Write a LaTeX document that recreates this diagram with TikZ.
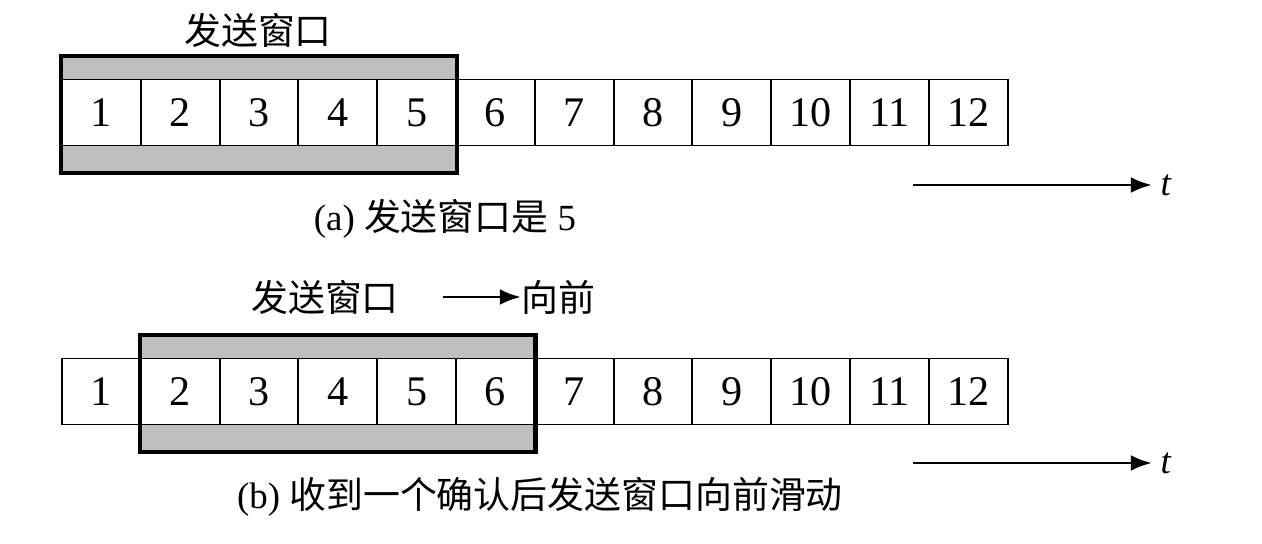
\documentclass[tikz,border=0pt]{standalone}
\usepackage{fontspec}
\setmainfont{Liberation Serif}
\newfontfamily\cjk{Noto Sans CJK SC}
\usetikzlibrary{arrows.meta,positioning}

\tikzset{
  cell/.style={draw,line width=1.1pt,fill=white,minimum width=1.576cm,minimum height=1.32cm,
    inner sep=0pt,font=\fontsize{24}{24}\selectfont},
  winband/.style={fill=gray!50},
  winframe/.style={line width=2.6pt},
  timearrow/.style={line width=1.7pt,-{Latex[length=12pt,width=9pt]}},
  lbl/.style={inner sep=0pt,font=\fontsize{21}{21}\selectfont}
}

\begin{document}
\begin{tikzpicture}[x=0.02cm,y=-0.02cm]
  \useasboundingbox (0,0) rectangle (1262,544);
  % (a) window covers 1..5
  \fill[winband] (62,56) rectangle (456,173);
  \foreach \k in {1,...,12}
    \node[cell] (a\k) at ({62+78.8*(\k-0.5)},112.5) {\k};
  \draw[winframe] (a1.west |- 0,56) rectangle (a5.east |- 0,173);
  \node[lbl] (wina) at (258,30) {\cjk 发送窗口};
  \coordinate (ta0) at (913,185);
  \coordinate (ta1) at (1152,185);
  \draw[timearrow] (ta0) -- (ta1) node[right=4pt,lbl] (tla) {\itshape t};
  \node[lbl] (capa) at (445,219) {(a) {\cjk 发送窗口是} 5};
  % (b) window slid forward to 2..6
  \fill[winband] (141,335) rectangle (535,452);
  \foreach \k in {1,...,12}
    \node[cell] (b\k) at ({62+78.8*(\k-0.5)},391.5) {\k};
  \draw[winframe] (b2.west |- 0,335) rectangle (b6.east |- 0,452);
  \node[lbl] (winb) at (325,297) {\cjk 发送窗口};
  \node[lbl,anchor=west] (fwd) at (521,297) {\cjk 向前};
  \coordinate (fa0) at (443,297);
  \draw[timearrow] (fa0) -- (fwd.west);
  \coordinate (tb0) at (913,463);
  \coordinate (tb1) at (1152,463);
  \draw[timearrow] (tb0) -- (tb1) node[right=4pt,lbl] (tlb) {\itshape t};
  \node[lbl] (capb) at (540,497) {(b) {\cjk 收到一个确认后发送窗口向前滑动}};
\end{tikzpicture}
\end{document}
